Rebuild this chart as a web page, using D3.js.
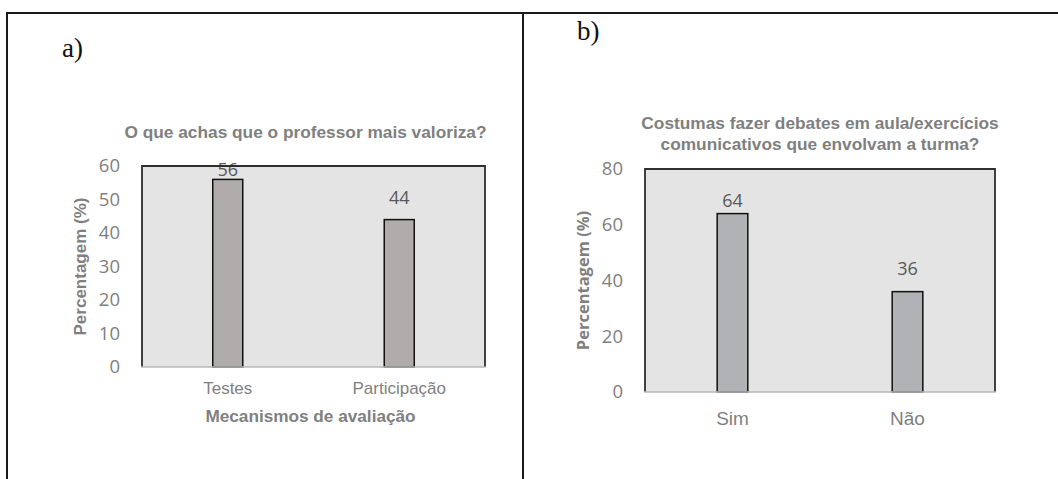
<!DOCTYPE html>
<html>
<head>
<meta charset="utf-8">
<script src="https://cdn.jsdelivr.net/npm/d3@7"></script>
<style>
body{margin:0;background:#fff;}
svg{display:block;}
</style>
</head>
<body>
<svg id="content" width="1058" height="479"></svg>
<script>
//chart data----------------------------------------------
var catsA = ["Testes", "Participação"];
var valsA = [56, 44];
var ticksA = [0, 10, 20, 30, 40, 50, 60];

var catsB = ["Sim", "Não"];
var valsB = [64, 36];
var ticksB = [0, 20, 40, 60, 80];

var svg = d3.select("#content");

//table lines round the two panels
svg.append("path")
	.attr("d", "M7,1000V13H1070M523,13V1000")
	.style("fill", "none")
	.style("stroke", "#1a1a1a")
	.style("stroke-width", 2);

//Draws one bar chart-----------------------------------------
function drawChart(cfg){
var g = svg.append("g");

var x = d3.scaleBand()
	.domain(cfg.cats)
	.range([cfg.left, cfg.right])
	.paddingInner(0.825)
	.paddingOuter(0.4125);

var y = d3.scaleLinear()
	.domain([0, d3.max(cfg.ticks)])
	.range([cfg.bottom, cfg.top]);

//plot background
g.append("rect")
	.attr("x", cfg.left).attr("y", cfg.top)
	.attr("width", cfg.right - cfg.left)
	.attr("height", cfg.bottom - cfg.top)
	.style("fill", "#e4e4e4");

//bars
g.selectAll("rect.bar")
	.data(cfg.vals)
	.enter()
	.append("rect")
	.attr("class", "bar")
	.attr("x", function(d, i){ return x(cfg.cats[i]); })
	.attr("y", function(d){ return y(d); })
	.attr("width", x.bandwidth())
	.attr("height", function(d){ return cfg.bottom - y(d); })
	.style("fill", cfg.barColor)
	.style("stroke", "#111")
	.style("stroke-width", 1.5);

//data labels
g.selectAll("text.lbl")
	.data(cfg.vals)
	.enter()
	.append("text")
	.attr("class", "lbl")
	.attr("x", function(d, i){ return x(cfg.cats[i]) + x.bandwidth() / 2; })
	.attr("y", function(d, i){ return y(d) - cfg.labelGap[i]; })
	.attr("text-anchor", "middle")
	.style("font-family", "'Open Sans', sans-serif")
	.style("font-size", "18px")
	.style("fill", "#595959")
	.text(function(d){ return d; });

//plot frame, bottom edge lighter like the axis line
g.append("path")
	.attr("d", "M" + cfg.left + "," + cfg.bottom + "V" + cfg.top + "H" + cfg.right + "V" + cfg.bottom)
	.style("fill", "none")
	.style("stroke", "#2e2e2e")
	.style("stroke-width", 1.8);
g.append("line")
	.attr("x1", cfg.left - 1).attr("x2", cfg.right + 1)
	.attr("y1", cfg.bottom).attr("y2", cfg.bottom)
	.style("stroke", "#b8b8b8")
	.style("stroke-width", 1.5);

//y axis
var ya = g.append("g")
	.attr("transform", "translate(" + cfg.left + ",0)")
	.call(d3.axisLeft(y).tickValues(cfg.ticks).tickSize(0).tickPadding(22));
ya.select(".domain").remove();
ya.selectAll("text")
	.style("font-family", "'Open Sans', sans-serif")
	.style("font-size", "18.5px")
	.style("fill", "#7f7f7f");

//x axis
var xa = g.append("g")
	.attr("transform", "translate(0," + cfg.bottom + ")")
	.call(d3.axisBottom(x).tickSize(0).tickPadding(cfg.xPad));
xa.select(".domain").remove();
xa.selectAll("text")
	.style("font-family", "'Liberation Sans', Arial, sans-serif")
	.style("font-size", cfg.xFont + "px")
	.style("fill", "#7f7f7f");

//titles
var mid = (cfg.left + cfg.right) / 2;
g.selectAll("text.title")
	.data(cfg.title)
	.enter()
	.append("text")
	.attr("class", "title")
	.attr("x", mid + cfg.titleDx)
	.attr("y", function(d, i){ return cfg.titleY + i * 21; })
	.attr("text-anchor", "middle")
	.style("font-family", "'Liberation Sans', Arial, sans-serif")
	.style("font-weight", "bold")
	.style("font-size", "17.3px")
	.style("fill", "#7f7f7f")
	.text(function(d){ return d; });

g.append("text")
	.attr("transform", "translate(" + cfg.yTitleX + "," + ((cfg.top + cfg.bottom) / 2) + ") rotate(-90)")
	.attr("text-anchor", "middle")
	.attr("dy", "0.35em")
	.style("font-family", cfg.yTitleFont)
	.style("font-weight", "bold")
	.style("font-size", cfg.yTitleSize + "px")
	.style("fill", "#7f7f7f")
	.text("Percentagem (%)");

if(cfg.xTitle){
g.append("text")
	.attr("x", mid - 3)
	.attr("y", cfg.xTitleY)
	.attr("text-anchor", "middle")
	.style("font-family", "'Liberation Sans', Arial, sans-serif")
	.style("font-weight", "bold")
	.style("font-size", "17.2px")
	.style("fill", "#7f7f7f")
	.text(cfg.xTitle);
}

//panel letter
g.append("text")
	.attr("x", cfg.letterX).attr("y", cfg.letterY)
	.style("font-family", "'Liberation Serif', 'Times New Roman', serif")
	.style("font-size", "27px")
	.style("fill", "#111")
	.text(cfg.letter);
}

drawChart({
	cats: catsA, vals: valsA, ticks: ticksA,
	left: 142, right: 485, top: 166, bottom: 367,
	barColor: "#b0acab", labelGap: [3, 16],
	xPad: 15, xFont: 17,
	title: ["O que achas que o professor mais valoriza?"], titleY: 138, titleDx: -8,
	yTitleX: 80, yTitleFont: "'Liberation Sans', Arial, sans-serif", yTitleSize: 17,
	xTitle: "Mecanismos de avaliação", xTitleY: 422,
	letter: "a)", letterX: 62, letterY: 57
});

drawChart({
	cats: catsB, vals: valsB, ticks: ticksB,
	left: 645, right: 995, top: 169, bottom: 392,
	barColor: "#b1b2b5", labelGap: [7, 17],
	xPad: 20, xFont: 19,
	title: ["Costumas fazer debates em aula/exercícios", "comunicativos que envolvam a turma?"], titleY: 129, titleDx: 0,
	yTitleX: 583, yTitleFont: "'Open Sans', sans-serif", yTitleSize: 16.5,
	xTitle: null,
	letter: "b)", letterX: 577, letterY: 40
});
</script>
</body>
</html>
